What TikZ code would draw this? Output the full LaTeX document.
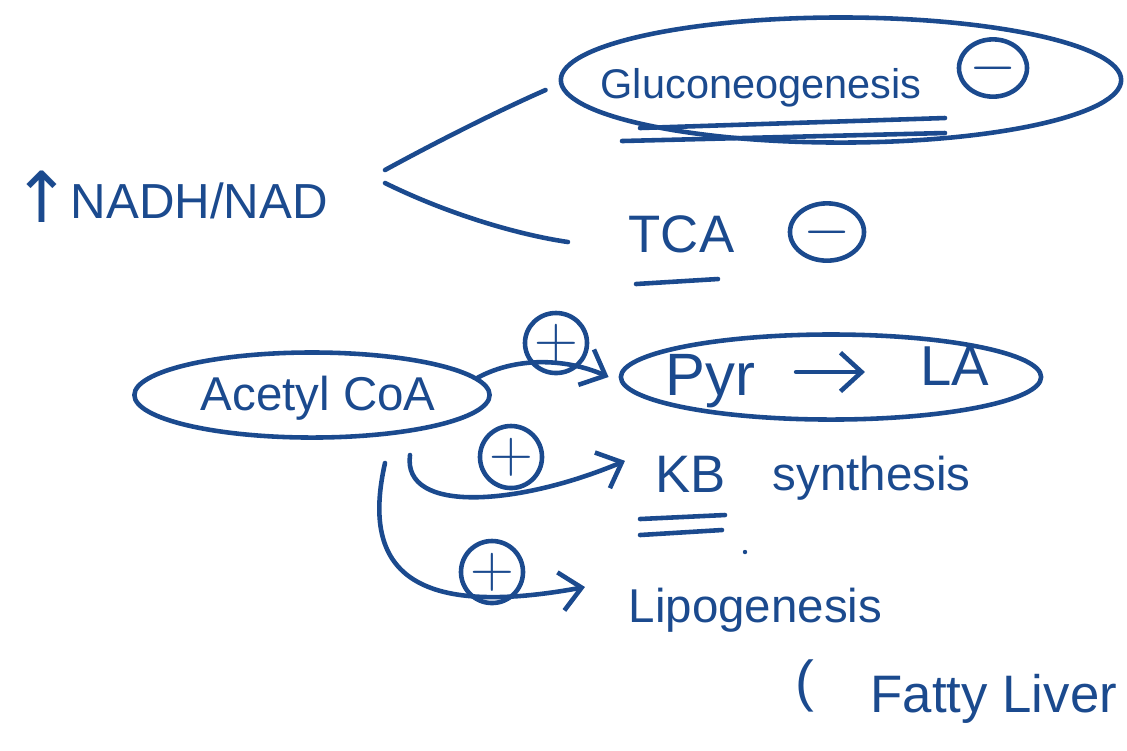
\documentclass[tikz,border=0pt]{standalone}
\usepackage{fontspec}
\setmainfont{Liberation Sans}
\newfontfamily\symfont{DejaVu Sans}
\usetikzlibrary{shapes.geometric,arrows.meta}
\definecolor{ink}{HTML}{1B4A8E}
\newcommand{\fs}[1]{\fontsize{#1}{#1}\selectfont}
\begin{document}
\begin{tikzpicture}[x=0.01cm,y=-0.01cm,
  every node/.style={text=ink, inner sep=0pt},
  pen/.style={draw=ink, line width=1.3pt, line cap=round, line join=round},
  word/.style={anchor=base west},
  loopy/.style={pen, ellipse},
  sign/.style={pen, ellipse, minimum width=0.68cm, minimum height=0.52cm, font=\fs{16}},
  tip/.style={-{Straight Barb[length=6pt,width=11pt,line width=1.3pt]}}
]
\useasboundingbox (0,0) rectangle (1127,750);

% left: redox ratio
\node[word, font=\symfont\fs{20}] (up) at (12,222) {↑};
\node[word, font=\fs{14}] (nadh) at (70,218) {NADH/NAD};
\coordinate (n1) at (385,170);
\coordinate (n2) at (385,183);

% gluconeogenesis (inhibited)
\node[loopy, minimum width=5.6cm, minimum height=1.25cm] (glucoloop) at (841,80) {};
\node[word, font=\fs{11.8}] (gluco) at (600,98) {Gluconeogenesis};
\node[sign] (gminus) at (993,68) {$-$};
\draw[pen] (640,128) -- (945,118);
\draw[pen] (622,141) -- (945,133);

% TCA (inhibited)
\node[word, font=\fs{15}] (tca) at (628,252) {TCA};
\node[sign, minimum width=0.74cm, minimum height=0.56cm] (tminus) at (827,232) {$-$};
\draw[pen] (636,284) -- (718,279);

\draw[pen] (n1) .. controls (440,140) and (500,110) .. ([shift={(-0.13cm,-0.1cm)}]glucoloop.west);
\draw[pen] (n2) .. controls (450,215) and (520,235) .. ([xshift=-0.6cm]tca.west |- 0,242);

% acetyl CoA
\node[loopy, minimum width=3.55cm, minimum height=0.85cm] (acetyl) at (312,395) {};
\node[word, font=\fs{13.5}] (actext) at (200,410) {Acetyl CoA};

% pyruvate -> lactate
\node[loopy, minimum width=4.2cm, minimum height=0.85cm] (pyrloop) at (831,377) {};
\node[word, font=\fs{17}] (pyr) at (665,395) {Pyr};
\node[word, font=\fs{16}] (la) at (920,385) {LA};
\draw[pen, tip, shorten <=0.4cm, shorten >=0.55cm] (pyr.east |- 0,372) -- (la.west |- 0,372);

% ketone bodies
\node[word, font=\fs{15}] (kb) at (655,492) {KB};
\node[word, font=\fs{13.5}] (synth) at (772,490) {synthesis};
\draw[pen] (640,519) -- (725,515);
\draw[pen] (640,535) -- (722,530);
\fill[ink] (745,552) circle (2.2);

% lipogenesis
\node[word, font=\fs{13.5}] (lipo) at (628,622) {Lipogenesis};
\node[word, font=\fs{16}] (paren) at (795,700) {(};
\node[word, font=\fs{15}] (fatty) at (870,712) {Fatty Liver};

% activation arrows
\node[sign, minimum width=0.62cm, minimum height=0.6cm] (p1) at (556,343) {$+$};
\node[sign, minimum width=0.62cm, minimum height=0.62cm] (p2) at (511,457) {$+$};
\node[sign, minimum width=0.62cm, minimum height=0.62cm] (p3) at (492,572) {$+$};

\coordinate (a2s) at (410,455);
\coordinate (a3s) at (385,463);
\draw[pen, tip] (acetyl.6) .. controls (520,355) and (570,360) .. ([xshift=-0.1cm]pyrloop.west);
\draw[pen, tip] (a2s) .. controls (402,515) and (520,505) .. ([shift={(-0.3cm,0.13cm)}]kb.west);
\draw[pen, tip] (a3s) .. controls (362,565) and (405,620) .. ([shift={(-0.43cm,0.35cm)}]lipo.base west);
\end{tikzpicture}
\end{document}
